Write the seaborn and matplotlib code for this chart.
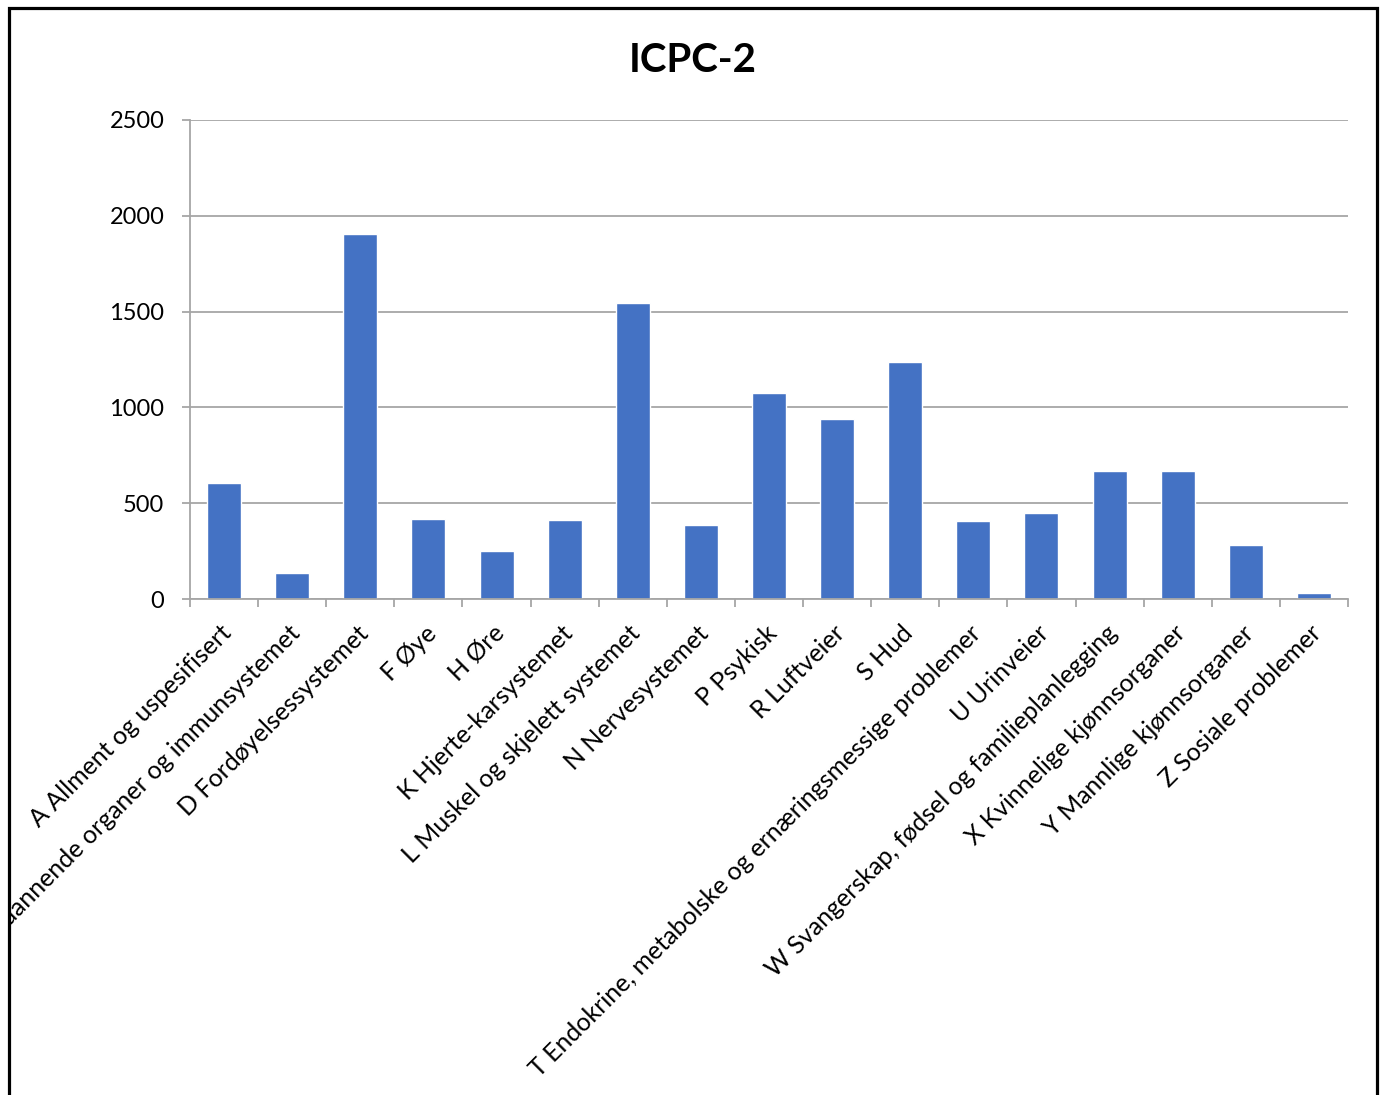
import matplotlib
matplotlib.use("Agg")
import matplotlib.pyplot as plt
import matplotlib.transforms as mtransforms
from matplotlib.patches import Rectangle
import seaborn as sns
import pandas as pd

categories = [
    "A Allment og uspesifisert",
    "B Blod, bloddannende organer og immunsystemet",
    "D Fordøyelsessystemet",
    "F Øye",
    "H Øre",
    "K Hjerte-karsystemet",
    "L Muskel og skjelett systemet",
    "N Nervesystemet",
    "P Psykisk",
    "R Luftveier",
    "S Hud",
    "T Endokrine, metabolske og ernæringsmessige problemer",
    "U Urinveier",
    "W Svangerskap, fødsel og familieplanlegging",
    "X Kvinnelige kjønnsorganer",
    "Y Mannlige kjønnsorganer",
    "Z Sosiale problemer",
]
counts = [608, 135, 1903, 420, 252, 411, 1545, 388, 1073, 938, 1235, 405, 450, 667, 670, 280, 30]
y_ticks = [0, 500, 1000, 1500, 2000, 2500]

df = pd.DataFrame({"kategori": categories, "antall": counts})

sns.set_theme(style="white")
plt.rcParams["font.family"] = ["Lato", "DejaVu Sans"]

W, H = 1381, 1095
fig = plt.figure(figsize=(W / 100, H / 100), dpi=100)
ax = fig.add_axes([190 / W, 1 - 599 / H, (1348 - 190) / W, (599 - 120) / H])

sns.barplot(data=df, x="kategori", y="antall", color="#4472C4", width=0.5,
            saturation=1, ax=ax)

grid_col = "#a6a6a6"
ax.set_xlim(-0.5, len(categories) - 0.5)
ax.set_ylim(0, 2500)
ax.set_yticks(y_ticks)
ax.set_yticklabels([str(v) for v in y_ticks], fontsize=17, color="black")
ax.yaxis.grid(True, color=grid_col, linewidth=1.3)
ax.set_axisbelow(True)
ax.set_xlabel("")
ax.set_ylabel("")

for side in ["top", "right"]:
    ax.spines[side].set_visible(False)
for side in ["left", "bottom"]:
    ax.spines[side].set_color(grid_col)
    ax.spines[side].set_linewidth(1.3)

ax.tick_params(axis="y", which="major", left=True, length=5.5, width=1.3,
               color=grid_col, pad=13)

# category separators as minor ticks on the x axis
ax.set_xticks([i - 0.5 for i in range(len(categories) + 1)], minor=True)
ax.tick_params(axis="x", which="minor", bottom=True, length=5.5, width=1.3,
               color=grid_col)
ax.tick_params(axis="x", which="major", bottom=False, length=0, pad=22)

ax.set_xticks(range(len(categories)))
ax.set_xticklabels(categories, fontsize=18, color="black")
clip_box = mtransforms.TransformedBbox(
    mtransforms.Bbox([[10 / W, 0], [1376 / W, 1]]), fig.transFigure)
shift = mtransforms.ScaledTranslation(4 / 100, 0, fig.dpi_scale_trans)
for lab in ax.get_xticklabels():
    lab.set_rotation(45)
    lab.set_rotation_mode("anchor")
    lab.set_ha("right")
    lab.set_va("center")
    lab.set_transform(lab.get_transform() + shift)
    lab.set_clip_box(clip_box)
    lab.set_clip_on(True)

fig.text(693 / W, 1 - 60 / H, "ICPC-2", ha="center", va="center",
         fontsize=29, fontweight="bold", color="black")

# chart frame
fig.add_artist(Rectangle((9 / W, -0.05), (1377 - 9) / W, 1 - 8 / H + 0.05,
                         transform=fig.transFigure, fill=False,
                         edgecolor="black", linewidth=2.3))

fig.savefig("out.png", dpi=100, facecolor="white")
